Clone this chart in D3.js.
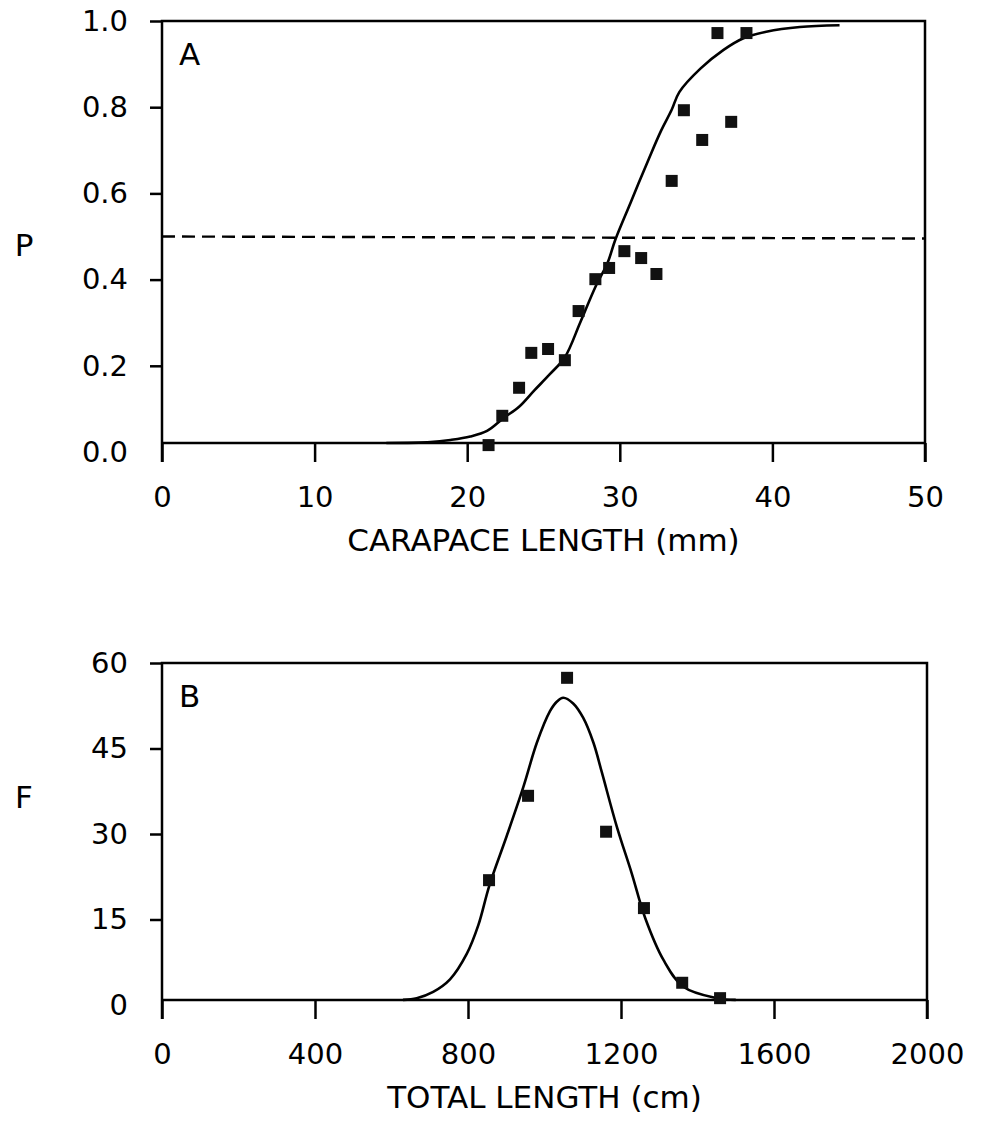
<!DOCTYPE html>
<html>
  <head>
    <meta charset="utf-8">
    <style>
      body { margin: 0; background: #fff; }
      svg { display: block; }
      .axis text { font: 29px "DejaVu Sans", sans-serif; fill: #000; }
      .axis line { stroke: #000; stroke-width: 2.5; }
      .title { font: 31px "DejaVu Sans", sans-serif; fill: #000; }
      .frame { fill: none; stroke: #000; stroke-width: 2.5; }
    </style>
    <script src="https://cdnjs.cloudflare.com/ajax/libs/d3/7.8.5/d3.min.js"></script>
  </head>
  <body>
    <svg class="chart" width="1002" height="1123"></svg>
    <script>

      // panel A : maturity ogive
      const xTicksA = [0, 10, 20, 30, 40, 50];
      const yTicksA = [0, 0.2, 0.4, 0.6, 0.8, 1.0];
      const lengthA = [21.4, 22.3, 23.4, 24.2, 25.3, 26.4, 27.3, 28.4, 29.3, 30.3, 31.4, 32.4, 33.4, 34.2, 35.4, 36.4, 37.3, 38.3];
      const propA   = [0.016, 0.084, 0.149, 0.23, 0.239, 0.213, 0.327, 0.401, 0.427, 0.466, 0.45, 0.413, 0.629, 0.793, 0.724, 0.972, 0.766, 0.972];
      const fitXA = [14.7, 17.6, 18.9, 20.2, 21.3, 22.35, 23.4, 24.4, 25.4, 26.4, 27.4, 28.4, 29.2, 29.7, 30.7, 31.9, 32.7, 33.4, 33.9, 35.3, 36.8, 38.1, 39.6, 41.8, 44.4];
      const fitYA = [0.021, 0.023, 0.028, 0.036, 0.049, 0.078, 0.105, 0.143, 0.18, 0.22, 0.3, 0.383, 0.439, 0.492, 0.578, 0.68, 0.745, 0.794, 0.835, 0.89, 0.933, 0.96, 0.975, 0.986, 0.99];
      const cutoffA = 0.5;

      // panel B : length frequency
      const xTicksB = [0, 400, 800, 1200, 1600, 2000];
      const yTicksB = [0, 15, 30, 45, 60];
      const lengthB = [855, 957, 1059, 1161, 1260, 1360, 1459];
      const freqB   = [21.9, 36.7, 57.4, 30.4, 17.0, 3.9, 1.2];
      const fitXB = [630, 666, 709, 753, 797, 827, 856, 901, 945, 980, 1014, 1032, 1049, 1075, 1101, 1128, 1150, 1189, 1228, 1263, 1311, 1363, 1450, 1500];
      const fitYB = [0.9, 1.2, 2.3, 4.5, 9.0, 14.0, 21.0, 29.6, 38.3, 46.0, 51.5, 53.2, 53.9, 52.9, 50.4, 46.0, 40.8, 31.3, 23.1, 15.3, 7.9, 3.2, 1.2, 0.9];

      const svg = d3.select(".chart");

      function panel(opt) {
        const g = svg.append("g");
        const x = d3.scaleLinear().domain(opt.xDomain).range([opt.left, opt.right]);
        const y = d3.scaleLinear().domain(opt.yDomain).range([opt.zeroY, opt.top]);
        const base = opt.baseY;

        // x axis (ticks hang below the baseline)
        const xa = g.append("g")
          .attr("class", "axis")
          .attr("transform", `translate(0, ${base})`)
          .call(d3.axisBottom(x).tickValues(opt.xTicks).tickSize(19).tickPadding(24).tickFormat(d3.format("d")));
        xa.select(".domain").remove();

        // y axis
        const ya = g.append("g")
          .attr("class", "axis")
          .attr("transform", `translate(${opt.left}, 0)`)
          .call(d3.axisLeft(y).tickValues(opt.yTicks).tickSize(12).tickPadding(22).tickFormat(opt.yFormat));
        ya.select(".domain").remove();
        ya.selectAll(".tick").filter(d => d === 0).select("line").remove();

        // frame
        g.append("path").attr("class", "frame")
          .attr("d", `M${opt.left},${base + 19}V${opt.top}H${opt.right}V${base + 19}`);
        g.append("line").attr("class", "frame")
          .attr("x1", opt.left).attr("x2", opt.right)
          .attr("y1", base).attr("y2", base);

        if (opt.cutoff != null) {
          g.append("line")
            .attr("x1", opt.left).attr("x2", opt.right)
            .attr("y1", y(opt.cutoff)).attr("y2", y(opt.cutoff) + 2)
            .attr("stroke", "#000").attr("stroke-width", 2.4)
            .attr("stroke-dasharray", "13,7");
        }

        // fitted curve
        const fit = opt.fitX.map((v, i) => [v, opt.fitY[i]]);
        g.append("path")
          .datum(fit)
          .attr("fill", "none")
          .attr("stroke", "#000")
          .attr("stroke-width", 2.6)
          .attr("d", d3.line().x(d => x(d[0])).y(d => y(d[1])).curve(d3.curveCatmullRom));

        // observations
        const pts = opt.px.map((v, i) => [v, opt.py[i]]);
        g.selectAll(".pt").data(pts).enter()
          .append("rect")
          .attr("class", "pt")
          .attr("x", d => x(d[0]) - 6)
          .attr("y", d => y(d[1]) - 6)
          .attr("width", 12)
          .attr("height", 12)
          .attr("fill", "#111");

        // letters and titles
        g.append("text").attr("class", "title")
          .attr("x", opt.left + 17).attr("y", opt.top + 44)
          .attr("font-size", 37)
          .text(opt.letter);
        g.append("text").attr("class", "title")
          .attr("x", (opt.left + opt.right) / 2).attr("y", base + 108)
          .attr("text-anchor", "middle")
          .text(opt.xTitle);
        g.append("text").attr("class", "title")
          .attr("x", 24).attr("y", opt.yTitleY)
          .attr("text-anchor", "middle")
          .attr("dy", "0.36em")
          .text(opt.yTitle);
      }

      panel({
        left: 162, right: 925, top: 21, zeroY: 452, baseY: 443,
        xDomain: [0, 50], yDomain: [0, 1],
        xTicks: xTicksA, yTicks: yTicksA, yFormat: d3.format(".1f"),
        px: lengthA, py: propA, fitX: fitXA, fitY: fitYA, cutoff: cutoffA,
        letter: "A", xTitle: "CARAPACE LENGTH (mm)", yTitle: "P", yTitleY: 245
      });

      panel({
        left: 162, right: 927, top: 663, zeroY: 1005, baseY: 1000,
        xDomain: [0, 2000], yDomain: [0, 60],
        xTicks: xTicksB, yTicks: yTicksB, yFormat: d3.format("d"),
        px: lengthB, py: freqB, fitX: fitXB, fitY: fitYB, cutoff: null,
        letter: "B", xTitle: "TOTAL LENGTH (cm)", yTitle: "F", yTitleY: 797
      });

    </script>
  </body>
</html>
